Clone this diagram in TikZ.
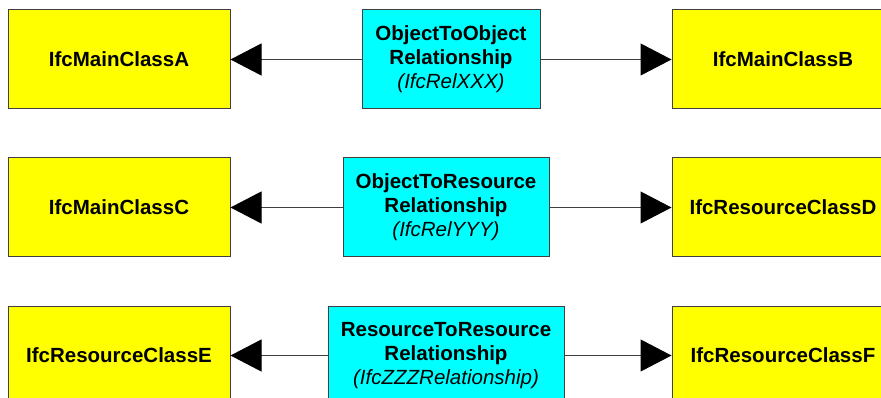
\documentclass[tikz,border=0pt]{standalone}
\usepackage{fontspec}
\setmainfont{Liberation Sans}
\usetikzlibrary{arrows.meta}
\definecolor{boxyellow}{HTML}{FFFF00}
\definecolor{boxcyan}{HTML}{00FFFF}
\definecolor{edgegray}{HTML}{404040}
\tikzset{
  classbox/.style={draw=edgegray, line width=1pt, fill=boxyellow, minimum width=222pt, minimum height=99pt, inner sep=0pt, font=\fontsize{20.5}{24}\selectfont\bfseries},
  relbox/.style={draw=edgegray, line width=1pt, fill=boxcyan, minimum height=99pt, inner sep=0pt, align=center, font=\fontsize{20.5}{24}\selectfont},
  conn/.style={draw=edgegray, line width=1pt, -{Triangle[length=31pt,width=32pt,fill=black,color=black]}}
}
\begin{document}
\begin{tikzpicture}[x=1pt,y=-1pt]
\useasboundingbox (0,0) rectangle (881,398);
% row 1
\node[classbox] (A) at (119,59.5) {IfcMainClassA};
\node[classbox] (B) at (783,59.5) {IfcMainClassB};
\node[relbox, minimum width=178pt] (R1) at (451,59.5) {\textbf{ObjectToObject}\\\textbf{Relationship}\\\textit{(IfcRelXXX)}};
\draw[conn] (R1) -- (A);
\draw[conn] (R1) -- (B);
% row 2
\node[classbox] (C) at (119,207.5) {IfcMainClassC};
\node[classbox] (D) at (783,207.5) {IfcResourceClassD};
\node[relbox, minimum width=206pt] (R2) at (446,207.5) {\textbf{ObjectToResource}\\\textbf{Relationship}\\\textit{(IfcRelYYY)}};
\draw[conn] (R2) -- (C);
\draw[conn] (R2) -- (D);
% row 3
\node[classbox] (E) at (119,355.5) {IfcResourceClassE};
\node[classbox] (F) at (783,355.5) {IfcResourceClassF};
\node[relbox, minimum width=236pt] (R3) at (446,355.5) {\textbf{ResourceToResource}\\\textbf{Relationship}\\\textit{(IfcZZZRelationship)}};
\draw[conn] (R3) -- (E);
\draw[conn] (R3) -- (F);
\end{tikzpicture}
\end{document}
